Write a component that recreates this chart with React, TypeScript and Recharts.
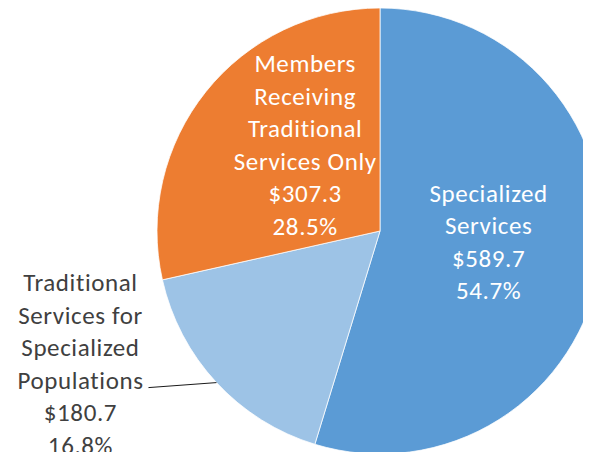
import { PieChart, Pie, Cell } from 'recharts';

// spending by service group, $ millions
const categories = [
  'Specialized Services',
  'Traditional Services for Specialized Populations',
  'Members Receiving Traditional Services Only',
];
const amounts = [589.7, 180.7, 307.3];
const nameLines = [
  ['Specialized', 'Services'],
  ['Traditional', 'Services for', 'Specialized', 'Populations'],
  ['Members', 'Receiving', 'Traditional', 'Services Only'],
];
const colors = ['#5B9BD5', '#9DC3E6', '#ED7D31'];

const data = categories.map((name, i) => ({ name, value: amounts[i] }));

const RAD = Math.PI / 180;
const FONT = 'Calibri, Carlito, Lato, "Noto Sans", sans-serif';
const FS = 25;
const LS = 0.6;
const LH = 32.5;

// inside label placement: fraction of radius + angle shift from the slice middle
const inside: Record<number, { k: number; da: number }> = {
  0: { k: 0.49, da: 2.5 },
  2: { k: 0.51, da: -10.2 },
};

function renderLabel(props: any) {
  const { cx, cy, midAngle, outerRadius, index, percent } = props;
  const value = amounts[index];
  const lines = [...nameLines[index], '$' + value.toFixed(1), (percent * 100).toFixed(1) + '%'];

  if (index === 1) {
    const sx = cx + outerRadius * Math.cos(-midAngle * RAD);
    const sy = cy + outerRadius * Math.sin(-midAngle * RAD);
    const ex = sx - 68;
    const ey = sy + 5;
    const tx = ex - 68;
    const first = ey + 1 - 3 * LH;
    return (
      <g key="lbl-1">
        <path d={`M${sx},${sy}L${ex},${ey}`} stroke="#1a1a1a" strokeWidth={1} fill="none" />
        <text textAnchor="middle" fill="#404040" fontFamily={FONT} fontSize={FS} letterSpacing={LS}>
          {lines.map((l, i) => (
            <tspan key={i} x={tx} y={first + i * LH}>{l}</tspan>
          ))}
        </text>
      </g>
    );
  }

  const p = inside[index];
  const ang = midAngle + p.da;
  const mx = cx + outerRadius * p.k * Math.cos(-ang * RAD);
  const my = cy + outerRadius * p.k * Math.sin(-ang * RAD);
  const first = my - ((lines.length - 1) / 2) * LH + 8;
  return (
    <text key={'lbl-' + index} textAnchor="middle" fill="#ffffff" fontFamily={FONT} fontSize={FS} letterSpacing={LS}>
      {lines.map((l, i) => (
        <tspan key={i} x={mx} y={first + i * LH}>{l}</tspan>
      ))}
    </text>
  );
}

export default function App() {
  return (
    <div style={{ width: 583, height: 444, overflow: 'hidden', background: '#fff' }}>
      <PieChart width={583} height={444} margin={{ top: 0, right: 0, bottom: 0, left: 0 }}>
        <Pie
          data={data}
          dataKey="value"
          nameKey="name"
          cx={372}
          cy={223}
          outerRadius={223}
          startAngle={90}
          endAngle={-270}
          stroke="#ffffff"
          strokeWidth={0.75}
          label={renderLabel}
          labelLine={false}
          isAnimationActive={false}
        >
          {data.map((d, i) => (
            <Cell key={d.name} fill={colors[i]} />
          ))}
        </Pie>
      </PieChart>
    </div>
  );
}
